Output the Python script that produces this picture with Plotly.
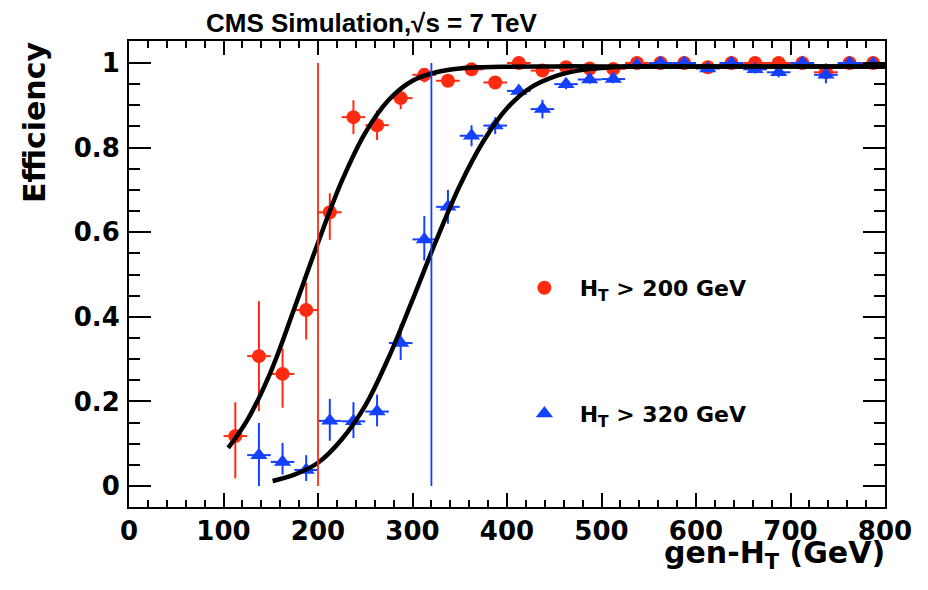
import plotly.graph_objects as go

# ---------------- data ----------------
red_x = [112.5, 137.5, 162.5, 187.5, 212.5, 237.5, 262.5, 287.5, 312.5, 337.5,
         362.5, 387.5, 412.5, 437.5, 462.5, 487.5, 512.5, 537.5, 562.5, 587.5,
         612.5, 637.5, 662.5, 687.5, 712.5, 737.5, 762.5, 787.5]
red_y = [0.118, 0.307, 0.265, 0.416, 0.647, 0.872, 0.853, 0.917, 0.972, 0.958,
         0.985, 0.954, 1.0, 0.982, 0.990, 0.987, 0.986, 1.0, 1.0, 1.0,
         0.990, 1.0, 1.0, 1.0, 1.0, 0.978, 1.0, 1.0]
red_eplus = [0.08, 0.13, 0.06, 0.065, 0.045, 0.04, 0.035, 0.02, 0.012, 0.01,
             0.006, 0.01, 0.0, 0.007, 0.005, 0.005, 0.005, 0.0, 0.0, 0.0,
             0.005, 0.0, 0.0, 0.0, 0.0, 0.01, 0.0, 0.0]
red_eminus = [0.10, 0.13, 0.08, 0.07, 0.065, 0.04, 0.035, 0.026, 0.018, 0.013,
              0.01, 0.012, 0.006, 0.009, 0.007, 0.007, 0.007, 0.004, 0.004, 0.004,
              0.008, 0.004, 0.004, 0.004, 0.004, 0.015, 0.004, 0.004]

blue_x = [137.5, 162.5, 187.5, 212.5, 237.5, 262.5, 287.5, 312.5, 337.5,
          362.5, 387.5, 412.5, 437.5, 462.5, 487.5, 512.5, 537.5, 562.5, 587.5,
          612.5, 637.5, 662.5, 687.5, 712.5, 737.5, 762.5, 787.5]
blue_y = [0.073, 0.057, 0.038, 0.154, 0.153, 0.176, 0.338, 0.583, 0.660,
          0.828, 0.852, 0.934, 0.891, 0.950, 0.961, 0.962, 0.995, 1.0, 1.0,
          0.987, 1.0, 0.985, 0.978, 1.0, 0.972, 1.0, 0.998]
blue_eplus = [0.076, 0.045, 0.035, 0.052, 0.045, 0.04, 0.045, 0.055, 0.04,
              0.025, 0.02, 0.012, 0.022, 0.012, 0.01, 0.01, 0.005, 0.0, 0.0,
              0.008, 0.0, 0.01, 0.012, 0.0, 0.027, 0.0, 0.002]
blue_eminus = [0.073, 0.03, 0.026, 0.047, 0.04, 0.035, 0.04, 0.05, 0.04,
               0.025, 0.02, 0.015, 0.022, 0.012, 0.01, 0.01, 0.006, 0.004, 0.004,
               0.008, 0.004, 0.01, 0.012, 0.004, 0.02, 0.004, 0.005]
bin_half_width = 12.5

red_fit_x = [105, 125, 150, 175, 200, 225, 250, 275, 300, 325, 350, 375, 400,
             450, 500, 600, 700, 800]
red_fit_y = [0.09, 0.155, 0.27, 0.42, 0.575, 0.72, 0.835, 0.913, 0.958, 0.978,
             0.987, 0.99, 0.991, 0.992, 0.992, 0.992, 0.992, 0.992]
blue_fit_x = [152, 175, 200, 225, 250, 275, 300, 325, 350, 375, 400, 425, 450,
              475, 500, 525, 550, 600, 700, 800]
blue_fit_y = [0.012, 0.027, 0.055, 0.11, 0.19, 0.305, 0.44, 0.58, 0.71, 0.815,
              0.893, 0.942, 0.968, 0.982, 0.988, 0.991, 0.992, 0.992, 0.992, 0.992]

thresholds = [200, 320]
threshold_span = [0, 1]

x_tick_vals = [0, 100, 200, 300, 400, 500, 600, 700, 800]
x_tick_text = ["0", "100", "200", "300", "400", "500", "600", "700", "800"]
y_tick_vals = [0, 0.2, 0.4, 0.6, 0.8, 1.0]
y_tick_text = ["0", "0.2", "0.4", "0.6", "0.8", "1"]

series_names = ["\u00a0\u00a0H<sub>T</sub> > 200 GeV", "\u00a0\u00a0H<sub>T</sub> > 320 GeV"]

RED = "#ff2a10"
BLUE = "#1440ff"
FONT = "DejaVu Sans"

fig = go.Figure()

fig.add_trace(go.Scatter(
    x=red_x, y=red_y, mode="markers", name=series_names[0],
    legendgroup="a",
    marker=dict(symbol="circle", size=14, color=RED),
    error_x=dict(type="constant", value=bin_half_width, color=RED, thickness=2, width=0),
    error_y=dict(type="data", array=red_eplus, arrayminus=red_eminus, symmetric=False,
                 color=RED, thickness=2, width=0),
))
fig.add_trace(go.Scatter(
    x=blue_x, y=blue_y, mode="markers", name=series_names[1],
    legendgroup="b",
    marker=dict(symbol="triangle-up", size=15, color=BLUE),
    error_x=dict(type="constant", value=bin_half_width, color=BLUE, thickness=2, width=0),
    error_y=dict(type="data", array=blue_eplus, arrayminus=blue_eminus, symmetric=False,
                 color=BLUE, thickness=2, width=0),
))

for fx, fy in [(red_fit_x, red_fit_y), (blue_fit_x, blue_fit_y)]:
    fig.add_trace(go.Scatter(x=fx, y=fy, mode="lines", showlegend=False,
                             line=dict(color="black", width=4.5, shape="spline", smoothing=1.0),
                             hoverinfo="skip"))

for t, c in zip(thresholds, [RED, BLUE]):
    fig.add_trace(go.Scatter(x=[t, t], y=threshold_span, mode="lines", showlegend=False,
                             line=dict(color=c, width=1.8), hoverinfo="skip"))

axis_common = dict(
    showline=True, linecolor="black", linewidth=2, mirror="allticks",
    ticks="inside", tickcolor="black", tickwidth=2,
    showgrid=False, zeroline=False, automargin=False,
    tickfont=dict(family=FONT, size=26, color="black", weight="bold"),
)

fig.update_xaxes(range=[0, 800], tickmode="array", tickvals=x_tick_vals, ticktext=x_tick_text,
                 ticklen=14, ticklabelstandoff=0,
                 minor=dict(tickmode="linear", tick0=0, dtick=20, ticks="inside", ticklen=7,
                            tickwidth=1.5, tickcolor="black", showgrid=False),
                 **axis_common)
fig.update_yaxes(range=[-0.0496, 1.052], tickmode="array", tickvals=y_tick_vals, ticktext=y_tick_text,
                 ticklen=22, ticklabelstandoff=2,
                 minor=dict(tickmode="linear", tick0=0, dtick=0.05, ticks="inside", ticklen=11,
                            tickwidth=1.5, tickcolor="black", showgrid=False),
                 **axis_common)

# page body has an 8 px default margin, so the figure is sized/offset to compensate
fig.update_layout(
    width=920, height=582,
    margin=dict(l=121, r=43, t=33, b=83, autoexpand=False),
    paper_bgcolor="white", plot_bgcolor="white",
    showlegend=True,
    legend=dict(x=0.523, y=0.515, xanchor="left", yanchor="top",
                bgcolor="rgba(0,0,0,0)", borderwidth=0, tracegroupgap=94,
                font=dict(family=FONT, size=22, color="black", weight="bold")),
    annotations=[
        dict(text="CMS Simulation,\u221as = 7 TeV", xref="paper", yref="paper",
             x=0.321, y=1.038, xanchor="center", yanchor="middle", showarrow=False,
             font=dict(family="Liberation Sans, Arial", size=26, color="black", weight="bold")),
        dict(text="Efficiency", xref="paper", yref="paper", textangle=-90,
             x=-0.1257, y=0.826, xanchor="center", yanchor="middle", showarrow=False,
             font=dict(family=FONT, size=30, color="black", weight="bold")),
        dict(text="gen-H<sub>T</sub> (GeV)", xref="paper", yref="paper",
             x=1.003, y=-0.102, xanchor="right", yanchor="middle", showarrow=False,
             font=dict(family=FONT, size=30, color="black", weight="bold")),
    ],
)

fig.write_html("out.html")
